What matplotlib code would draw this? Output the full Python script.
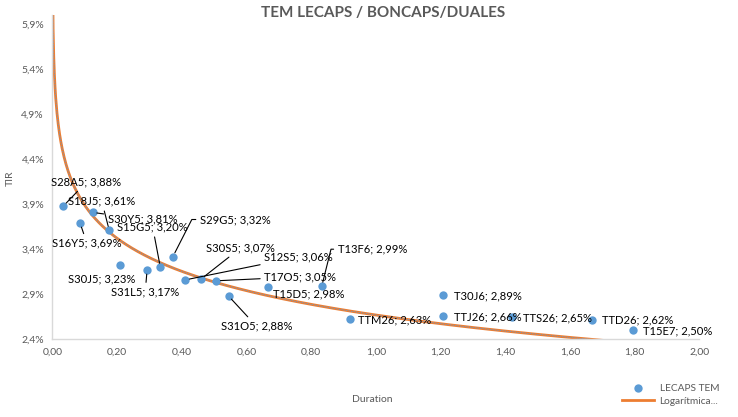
import numpy as np
import matplotlib
matplotlib.use("Agg")
import matplotlib.pyplot as plt
from matplotlib.ticker import FixedLocator, FuncFormatter

plt.rcParams['font.family'] = ['Lato', 'DejaVu Sans']

# ---- data ----
names = ["S28A5", "S16Y5", "S30Y5", "S18J5", "S30J5", "S31L5", "S15G5", "S29G5",
         "S12S5", "S30S5", "T17O5", "S31O5", "T15D5", "T13F6", "TTM26", "T30J6",
         "TTJ26", "TTS26", "TTD26", "T15E7"]
duration = [0.034, 0.086, 0.125, 0.176, 0.209, 0.293, 0.334, 0.373,
            0.411, 0.460, 0.507, 0.545, 0.668, 0.833, 0.919, 1.208,
            1.208, 1.420, 1.668, 1.794]
tir = [3.88, 3.69, 3.81, 3.61, 3.23, 3.17, 3.20, 3.32,
       3.06, 3.07, 3.05, 2.88, 2.98, 2.99, 2.63, 2.89,
       2.66, 2.65, 2.62, 2.50]  # percent
# logarithmic trendline as shown in the chart: y = trend_a + trend_b * ln(x)
trend_a = 2.67
trend_b = -0.53
yticks = [2.4, 2.9, 3.4, 3.9, 4.4, 4.9, 5.4, 5.9]
xticks = [0.0, 0.2, 0.4, 0.6, 0.8, 1.0, 1.2, 1.4, 1.6, 1.8, 2.0]

# label offsets (pixels: dx to label left edge, dy to label centre), leader style
label_off = {
    "S28A5": (-12, 24, "s"), "S16Y5": (-28, -20, "s"), "S30Y5": (15, -7, "s"),
    "S18J5": (-41, 29, "s"), "S30J5": (-52, -14, None), "S31L5": (-36, -22, "s"),
    "S15G5": (-43, 40, "s"), "S29G5": (27, 37, 63), "S12S5": (79, 23, "s"),
    "S30S5": (5, 31, "s"), "T17O5": (48, 4, "s"), "S31O5": (-8, -30, "s"),
    "T15D5": (5, -7, None), "T13F6": (16, 37, 76), "TTM26": (8, -1, None),
    "T30J6": (11, -1, None), "TTJ26": (11, -1, None), "TTS26": (11, -1, None),
    "TTD26": (10, 0, None), "T15E7": (10, -1, None),
}

W, H = 738, 417
fig = plt.figure(figsize=(W / 100, H / 100), dpi=100)
ax = fig.add_axes([52.3 / W, (H - 339.3) / H, 647 / W, 324 / H])

d = np.array(duration)
t = np.array(tir)

xs = np.linspace(0.0005, 2.0, 1000)
ys = trend_a + trend_b * np.log(xs)
ax.plot(xs, ys, color="#ED7D31", lw=2.0, zorder=2, label="Logarítmica...")
ax.plot(xs, ys, color="#5B9BD5", lw=0.6, ls=(0, (1.5, 1.5)), zorder=2)

ax.scatter(d, t, s=36, color="#5B9BD5", zorder=3, label="LECAPS TEM", linewidths=0)

for n, x, y in zip(names, d, t):
    dx, dy, leader = label_off[n]
    lbl = f"{n}; {y:.2f}%".replace(".", ",")
    if leader is None:
        ap = None
    elif leader == "s":
        ap = dict(arrowstyle="-", color="black", lw=0.8, shrinkA=1, shrinkB=3)
    else:
        ap = dict(arrowstyle="-", color="black", lw=0.8, shrinkA=1, shrinkB=3,
                  connectionstyle=f"angle,angleA=0,angleB={leader},rad=0")
    ax.annotate(lbl, xy=(x, y), xytext=(dx, dy), textcoords="offset pixels",
                ha="left", va="center", fontsize=8.1, color="black",
                arrowprops=ap, zorder=4)

ax.set_xlim(0, 2.0)
ax.set_ylim(2.4, 6.0)
ax.xaxis.set_major_locator(FixedLocator(xticks))
ax.yaxis.set_major_locator(FixedLocator(yticks))
ax.xaxis.set_major_formatter(FuncFormatter(lambda v, p: f"{v:.2f}".replace(".", ",")))
ax.yaxis.set_major_formatter(FuncFormatter(lambda v, p: f"{v:.1f}%".replace(".", ",")))
ax.tick_params(axis="both", length=0, labelsize=7.5, labelcolor="#595959", pad=6)
for s in ["top", "right"]:
    ax.spines[s].set_visible(False)
for s in ["left", "bottom"]:
    ax.spines[s].set_color("#D9D9D9")
    ax.spines[s].set_linewidth(1.0)

fig.text(383 / W, 1 - 13 / H, "TEM LECAPS / BONCAPS/DUALES", ha="center", va="center",
         fontsize=11, fontweight="bold", color="#595959")
fig.text(10 / W, 1 - 178 / H, "TIR", rotation=90, ha="center", va="center",
         fontsize=7.5, color="#595959")
fig.text(372 / W, 1 - 400 / H, "Duration", ha="center", va="center",
         fontsize=7.5, color="#595959")

h, l = ax.get_legend_handles_labels()
order = [l.index("LECAPS TEM"), l.index("Logarítmica...")]
fig.legend([h[i] for i in order], [l[i] for i in order], loc="upper left",
           bbox_to_anchor=(622 / W, 1 - 384 / H), frameon=False, fontsize=7.3,
           labelcolor="#595959", handlelength=3.2, handletextpad=0.5,
           labelspacing=0.35, borderpad=0, borderaxespad=0)

fig.savefig("out.png", dpi=100)
